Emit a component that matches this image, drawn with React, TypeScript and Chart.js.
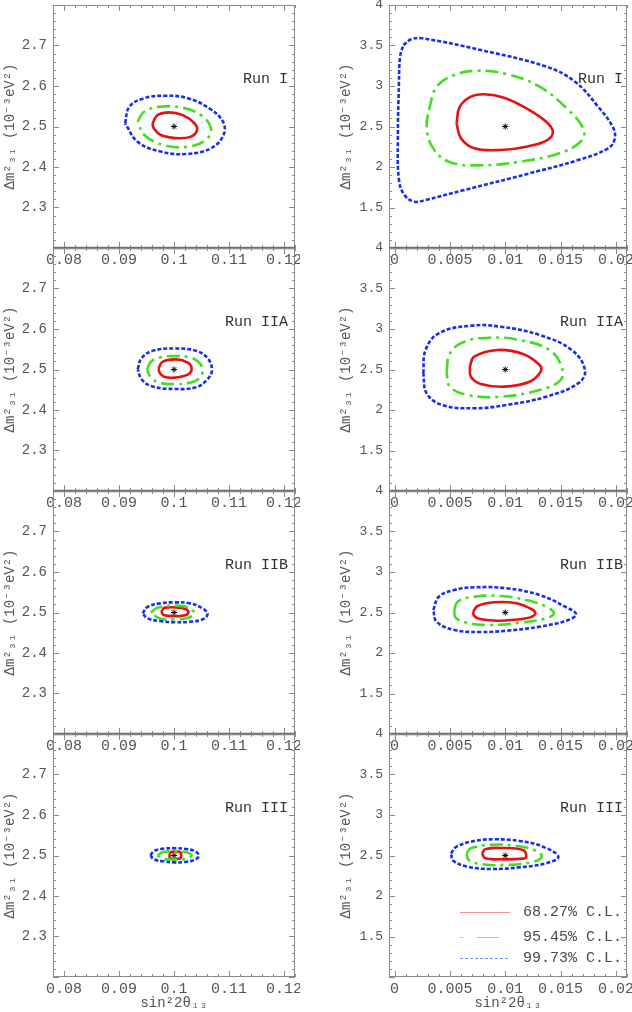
import React, { useEffect, useRef } from 'react';
import { Chart, registerables } from 'chart.js';
Chart.register(...registerables);

type Pt = [number, number];

// ---------- text ----------
const runLabels = ['Run I', 'Run IIA', 'Run IIB', 'Run III'];
const legendLabels = ['68.27% C.L.', '95.45% C.L.', '99.73% C.L.'];
const xTitle = 'sin²2θ₁₃';
const yTitle = 'Δm²₃₁ (10⁻³eV²)';

// ---------- tick labels ----------
const leftXTicks = [0.08, 0.09, 0.1, 0.11, 0.12];
const leftYTicks = [2.3, 2.4, 2.5, 2.6, 2.7];
const rightXTicks = [0, 0.005, 0.01, 0.015, 0.02];
const rightYTicks = [1.5, 2, 2.5, 3, 3.5, 4];

// ---------- best fit points ----------
const bestLeft: Pt = [0.1, 2.5];
const bestRight: Pt = [0.01, 2.5];

// ---------- contours, left column (sin^2 2θ13 ~ 0.1) ----------
const L1_68: Pt[] = [[0.0961, 2.508], [0.0970, 2.528], [0.0991, 2.535], [0.1016, 2.528], [0.1037, 2.508], [0.1042, 2.491], [0.1031, 2.475], [0.1007, 2.471], [0.0976, 2.479], [0.0963, 2.496]];
const L1_95: Pt[] = [[0.0934, 2.512], [0.0946, 2.537], [0.0976, 2.549], [0.1013, 2.547], [0.1049, 2.528], [0.1067, 2.496], [0.1058, 2.467], [0.1025, 2.450], [0.0982, 2.454], [0.0946, 2.479]];
const L1_997: Pt[] = [[0.0911, 2.508], [0.0919, 2.549], [0.0946, 2.570], [0.0985, 2.576], [0.1025, 2.570], [0.1064, 2.545], [0.1089, 2.512], [0.1090, 2.479], [0.1067, 2.446], [0.1022, 2.432], [0.0976, 2.438], [0.0934, 2.462]];

const L2_68: Pt[] = [[0.0972, 2.503], [0.0979, 2.519], [0.1004, 2.525], [0.1025, 2.517], [0.1032, 2.503], [0.1026, 2.488], [0.1001, 2.480], [0.0982, 2.482], [0.0974, 2.492]];
const L2_95: Pt[] = [[0.0951, 2.499], [0.0958, 2.519], [0.0976, 2.530], [0.1001, 2.533], [0.1028, 2.530], [0.1046, 2.517], [0.1052, 2.497], [0.1046, 2.478], [0.1028, 2.467], [0.1001, 2.464], [0.0975, 2.467], [0.0958, 2.480]];
const L2_997: Pt[] = [[0.0934, 2.501], [0.0941, 2.528], [0.0961, 2.546], [0.1001, 2.552], [0.1040, 2.546], [0.1061, 2.528], [0.1069, 2.499], [0.1061, 2.476], [0.1040, 2.456], [0.1001, 2.452], [0.0961, 2.458], [0.0941, 2.476]];

const L3_68: Pt[] = [[0.0978, 2.506], [0.0984, 2.512], [0.1007, 2.512], [0.1022, 2.508], [0.1026, 2.500], [0.1020, 2.493], [0.1001, 2.491], [0.0981, 2.494], [0.0978, 2.500]];
const L3_95: Pt[] = [[0.0958, 2.500], [0.0970, 2.512], [0.1001, 2.517], [0.1025, 2.513], [0.1037, 2.498], [0.1026, 2.487], [0.1001, 2.483], [0.0973, 2.486]];
const L3_997: Pt[] = [[0.0943, 2.498], [0.0952, 2.514], [0.0976, 2.523], [0.1001, 2.525], [0.1028, 2.523], [0.1052, 2.510], [0.1061, 2.496], [0.1052, 2.483], [0.1028, 2.477], [0.1001, 2.476], [0.0973, 2.479], [0.0951, 2.486]];

const L4_68: Pt[] = [[0.0992, 2.505], [0.0995, 2.509], [0.1010, 2.509], [0.1013, 2.504], [0.1012, 2.494], [0.1007, 2.492], [0.0993, 2.492], [0.0992, 2.497]];
const L4_95: Pt[] = [[0.0970, 2.500], [0.0979, 2.508], [0.1001, 2.510], [0.1022, 2.508], [0.1032, 2.500], [0.1022, 2.492], [0.1001, 2.490], [0.0979, 2.492]];
const L4_997: Pt[] = [[0.0957, 2.501], [0.0965, 2.512], [0.0982, 2.517], [0.1001, 2.518], [0.1022, 2.516], [0.1039, 2.510], [0.1045, 2.499], [0.1037, 2.489], [0.1019, 2.484], [0.1001, 2.483], [0.0979, 2.486], [0.0963, 2.491]];

// ---------- contours, right column (sin^2 2θ13 ~ 0.01) ----------
const R1_68: Pt[] = [[0.0056, 2.539], [0.0059, 2.744], [0.0069, 2.868], [0.0081, 2.898], [0.0099, 2.856], [0.0119, 2.725], [0.0137, 2.559], [0.0143, 2.436], [0.0138, 2.333], [0.0119, 2.251], [0.0096, 2.210], [0.0072, 2.231], [0.0060, 2.354]];
const R1_95: Pt[] = [[0.0031, 2.704], [0.0038, 2.991], [0.0054, 3.136], [0.0075, 3.189], [0.0101, 3.148], [0.0131, 2.991], [0.0157, 2.704], [0.0171, 2.457], [0.0168, 2.312], [0.0149, 2.169], [0.0113, 2.065], [0.0078, 2.021], [0.0049, 2.065], [0.0034, 2.251], [0.0029, 2.498]];
const R1_997: Pt[] = [[0.0008, 3.506], [0.0015, 3.576], [0.0025, 3.589], [0.0078, 3.444], [0.0137, 3.239], [0.0163, 3.053], [0.0184, 2.744], [0.0197, 2.498], [0.0199, 2.354], [0.0193, 2.231], [0.0166, 2.086], [0.0122, 1.922], [0.0063, 1.716], [0.0028, 1.593], [0.0018, 1.572], [0.0009, 1.654], [0.0004, 1.840], [0.0003, 2.333], [0.0004, 3.033], [0.0005, 3.362]];

const R2_68: Pt[] = [[0.0068, 2.535], [0.0072, 2.658], [0.0093, 2.741], [0.0116, 2.691], [0.0131, 2.556], [0.0132, 2.473], [0.0122, 2.349], [0.0099, 2.288], [0.0078, 2.321], [0.0069, 2.411]];
const R2_95: Pt[] = [[0.0047, 2.473], [0.0050, 2.700], [0.0063, 2.843], [0.0087, 2.893], [0.0113, 2.864], [0.0140, 2.741], [0.0151, 2.535], [0.0150, 2.370], [0.0131, 2.247], [0.0096, 2.164], [0.0066, 2.185], [0.0050, 2.288]];
const R2_997: Pt[] = [[0.0026, 2.453], [0.0028, 2.741], [0.0040, 2.947], [0.0069, 3.041], [0.0096, 3.028], [0.0131, 2.926], [0.0160, 2.741], [0.0172, 2.494], [0.0166, 2.330], [0.0137, 2.164], [0.0101, 2.062], [0.0072, 2.021], [0.0043, 2.062], [0.0029, 2.206]];

const R3_68: Pt[] = [[0.0071, 2.510], [0.0075, 2.580], [0.0090, 2.626], [0.0110, 2.614], [0.0125, 2.531], [0.0127, 2.478], [0.0119, 2.428], [0.0096, 2.399], [0.0078, 2.416], [0.0072, 2.457]];
const R3_95: Pt[] = [[0.0054, 2.531], [0.0057, 2.633], [0.0072, 2.695], [0.0096, 2.704], [0.0119, 2.654], [0.0137, 2.572], [0.0144, 2.490], [0.0137, 2.428], [0.0113, 2.374], [0.0084, 2.346], [0.0065, 2.374], [0.0055, 2.441]];
const R3_997: Pt[] = [[0.0035, 2.531], [0.0040, 2.695], [0.0054, 2.778], [0.0072, 2.811], [0.0101, 2.799], [0.0131, 2.716], [0.0154, 2.572], [0.0164, 2.481], [0.0157, 2.407], [0.0131, 2.325], [0.0101, 2.275], [0.0078, 2.259], [0.0054, 2.284], [0.0038, 2.386]];

const R4_68: Pt[] = [[0.0079, 2.527], [0.0082, 2.577], [0.0096, 2.593], [0.0116, 2.568], [0.0119, 2.485], [0.0116, 2.461], [0.0096, 2.453], [0.0082, 2.465]];
const R4_95: Pt[] = [[0.0065, 2.527], [0.0069, 2.589], [0.0087, 2.633], [0.0110, 2.617], [0.0128, 2.559], [0.0133, 2.485], [0.0125, 2.420], [0.0101, 2.383], [0.0078, 2.395], [0.0067, 2.444]];
const R4_997: Pt[] = [[0.0051, 2.527], [0.0056, 2.609], [0.0072, 2.679], [0.0090, 2.700], [0.0113, 2.679], [0.0134, 2.609], [0.0148, 2.485], [0.0137, 2.404], [0.0113, 2.354], [0.0087, 2.333], [0.0066, 2.362], [0.0053, 2.436]];

// ---------- styling / layout ----------
const FONT = "'Liberation Mono', 'DejaVu Sans Mono', monospace";
const RED = '#e81010';
const GREEN = '#44dd22';
const BLUE = '#1530e8';
const FRAME = '#8a8a8a';
const PANEL_TOPS = [5, 248, 491, 734];
const PLOT_H = 243;
const PLOT_W = 242;
const Y_W = 53;
const PAD_TOP = 10;

interface Spec {
  left: boolean;
  row: number;
  c68: Pt[];
  c95: Pt[];
  c997: Pt[];
}

const specs: Spec[] = [
  { left: true, row: 0, c68: L1_68, c95: L1_95, c997: L1_997 },
  { left: false, row: 0, c68: R1_68, c95: R1_95, c997: R1_997 },
  { left: true, row: 1, c68: L2_68, c95: L2_95, c997: L2_997 },
  { left: false, row: 1, c68: R2_68, c95: R2_95, c997: R2_997 },
  { left: true, row: 2, c68: L3_68, c95: L3_95, c997: L3_997 },
  { left: false, row: 2, c68: R3_68, c95: R3_95, c997: R3_997 },
  { left: true, row: 3, c68: L4_68, c95: L4_95, c997: L4_997 },
  { left: false, row: 3, c68: R4_68, c95: R4_95, c997: R4_997 },
];

function fmt(v: number): string {
  return String(parseFloat(Number(v).toFixed(4)));
}

function closed(pts: Pt[]) {
  return [...pts, pts[0]].map(([x, y]) => ({ x, y }));
}

function Panel({ spec }: { spec: Spec }) {
  const ref = useRef<HTMLCanvasElement>(null);
  const isLast = spec.row === 3;
  const left = spec.left;
  const xh = isLast ? 35 : 26;
  const cw = left ? 300 : 296;
  const ch = PAD_TOP + PLOT_H + xh;
  const cx = left ? 0 : 336;
  const cy = PANEL_TOPS[spec.row] - PAD_TOP;

  useEffect(() => {
    if (!ref.current) return;
    const xMin = left ? 0.078 : -0.0005;
    const xMax = left ? 0.122 : 0.021;
    const yMin = left ? 2.2 : 1;
    const yMax = left ? 2.8 : 4;
    const xMinor = left ? 0.002 : 0.001;
    const xMajor = left ? 0.01 : 0.005;
    const yMinor = left ? 0.02 : 0.1;
    const yMajor = left ? 0.1 : 0.5;
    const xt = left ? leftXTicks : rightXTicks;
    const yt = left ? leftYTicks : rightYTicks;
    const best = left ? bestLeft : bestRight;

    const framePlugin = {
      id: 'frame',
      afterDatasetsDraw(chart: any) {
        const { ctx, chartArea: a, scales } = chart;
        const xs = scales.x;
        const ys = scales.y;
        ctx.save();
        ctx.strokeStyle = FRAME;
        ctx.lineWidth = 1;
        ctx.beginPath();
        const isMaj = (v: number, m: number) => Math.abs(v / m - Math.round(v / m)) < 1e-6;
        const k0 = Math.ceil(xMin / xMinor - 1e-9);
        for (let k = k0; k * xMinor <= xMax + 1e-12; k++) {
          const v = k * xMinor;
          const len = isMaj(v, xMajor) ? 6 : 3;
          const px = Math.round(xs.getPixelForValue(v)) + 0.5;
          ctx.moveTo(px, a.top);
          ctx.lineTo(px, a.top + len);
          ctx.moveTo(px, a.bottom);
          ctx.lineTo(px, a.bottom - len);
        }
        const j0 = Math.ceil(yMin / yMinor - 1e-9);
        for (let k = j0; k * yMinor <= yMax + 1e-9; k++) {
          const v = k * yMinor;
          const len = isMaj(v, yMajor) ? 6 : 3;
          const py = Math.round(ys.getPixelForValue(v)) + 0.5;
          ctx.moveTo(a.left, py);
          ctx.lineTo(a.left + len, py);
          ctx.moveTo(a.right, py);
          ctx.lineTo(a.right - len, py);
        }
        ctx.stroke();
        ctx.strokeRect(a.left + 0.5, a.top + 0.5, a.right - a.left - 1, a.bottom - a.top - 1);
        if (!isLast) {
          ctx.strokeStyle = '#707070';
          ctx.lineWidth = 2.5;
          ctx.beginPath();
          ctx.moveTo(a.left, a.bottom);
          ctx.lineTo(a.right, a.bottom);
          ctx.stroke();
        }
        // run label
        ctx.fillStyle = '#333';
        ctx.font = `15px ${FONT}`;
        ctx.textAlign = 'right';
        ctx.textBaseline = 'middle';
        ctx.fillText(runLabels[spec.row], a.right - (left ? 7 : 4), a.top + 74);
        // legend
        if (isLast && !left) {
          const cols = ['#ff8c8c', '#80f050', '#7090ff'];
          const dashes = [[], [3, 14, 22, 100], [3, 2]];
          const rows = [178, 203, 224];
          ctx.lineWidth = 1.2;
          for (let i = 0; i < 3; i++) {
            ctx.strokeStyle = cols[i];
            ctx.setLineDash(dashes[i]);
            ctx.beginPath();
            const y = a.top + rows[i] + 0.5;
            ctx.moveTo(a.left + 71, y);
            ctx.lineTo(a.left + 121, y);
            ctx.stroke();
            ctx.setLineDash([]);
            ctx.fillStyle = '#4a4a4a';
            ctx.textAlign = 'left';
            ctx.fillText(legendLabels[i], a.left + 134, a.top + rows[i]);
          }
        }
        ctx.restore();
      },
    };

    const ds = (pts: Pt[], color: string, dash: number[], w: number) => ({
      data: closed(pts),
      showLine: true,
      borderColor: color,
      borderWidth: w,
      borderDash: dash,
      pointRadius: 0,
      tension: 0.4,
      fill: false,
    });

    const chart = new Chart(ref.current, {
      type: 'scatter',
      data: {
        datasets: [
          ds(spec.c997, BLUE, [4, 2], 2.6) as any,
          ds(spec.c95, GREEN, [13, 5, 3, 5], 2.6) as any,
          ds(spec.c68, RED, [], 2.6) as any,
          {
            data: [{ x: best[0], y: best[1] }],
            pointStyle: 'star',
            pointRadius: 3,
            borderColor: '#000',
            backgroundColor: '#000',
            borderWidth: 1,
            showLine: false,
          } as any,
        ],
      },
      options: {
        animation: false,
        responsive: false,
        maintainAspectRatio: false,
        events: [],
        layout: { padding: { top: PAD_TOP, right: cw - Y_W - PLOT_W, left: 0, bottom: 0 } },
        plugins: { legend: { display: false }, tooltip: { enabled: false } },
        scales: {
          x: {
            type: 'linear',
            position: 'bottom',
            min: xMin,
            max: xMax,
            grid: { display: false, drawTicks: false },
            border: { display: false },
            afterBuildTicks: (s: any) => {
              s.ticks = xt.map((v) => ({ value: v }));
            },
            afterFit: (s: any) => {
              s.height = xh;
              s.paddingLeft = 0;
              s.paddingRight = 0;
            },
            ticks: {
              autoSkip: false,
              maxRotation: 0,
              minRotation: 0,
              padding: 3,
              color: '#555',
              font: { family: FONT, size: 15 },
              callback: (v: any) => fmt(v),
            },
            title: {
              display: isLast,
              text: xTitle,
              color: '#555',
              font: { family: FONT, size: 14 },
              padding: { top: 0, bottom: 0 },
            },
          },
          y: {
            type: 'linear',
            position: 'left',
            min: yMin,
            max: yMax,
            grid: { display: false, drawTicks: false },
            border: { display: false },
            afterBuildTicks: (s: any) => {
              s.ticks = yt.map((v) => ({ value: v }));
            },
            afterFit: (s: any) => {
              s.width = Y_W;
              s.paddingTop = 0;
              s.paddingBottom = 0;
            },
            ticks: {
              autoSkip: false,
              padding: 6,
              color: '#555',
              font: { family: FONT, size: left ? 14 : 13 },
              callback: (v: any) => fmt(v),
            },
            title: {
              display: true,
              text: yTitle,
              color: '#555',
              font: { family: FONT, size: 14 },
              padding: { top: 2, bottom: 0 },
            },
          },
        },
      } as any,
      plugins: [framePlugin as any],
    });
    return () => chart.destroy();
  }, []);

  return (
    <canvas
      ref={ref}
      width={cw}
      height={ch}
      style={{ position: 'absolute', left: cx, top: cy, width: cw, height: ch }}
    />
  );
}

export default function App() {
  return (
    <div style={{ position: 'absolute', left: 0, top: 0, width: 632, height: 1012, overflow: 'hidden', background: '#fff' }}>
      {specs.map((s, i) => (
        <Panel key={i} spec={s} />
      ))}
    </div>
  );
}
